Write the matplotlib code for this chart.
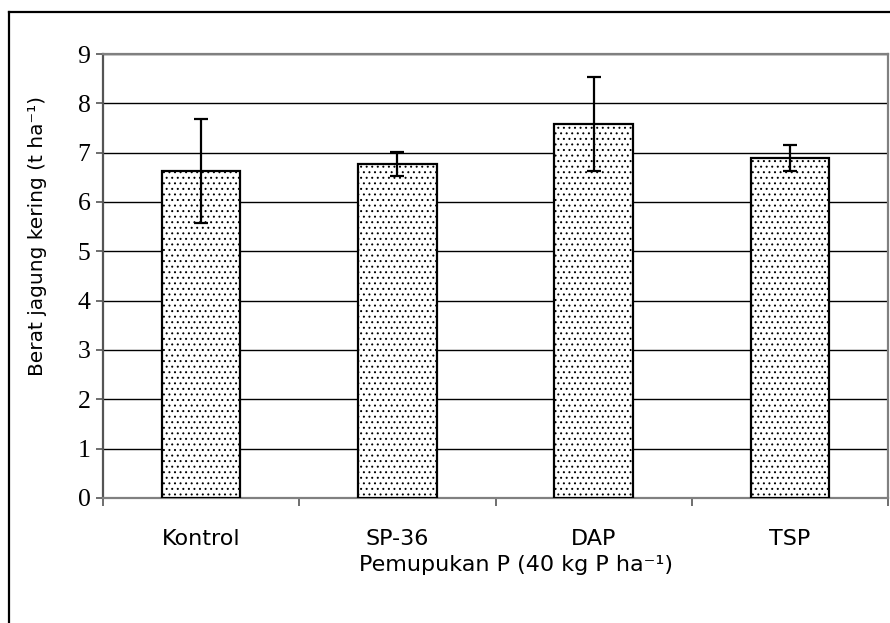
import matplotlib
matplotlib.use("Agg")
import matplotlib.pyplot as plt
from matplotlib.lines import Line2D
import numpy as np

plt.rcParams['hatch.linewidth'] = 0.7
plt.rcParams['hatch.color'] = '#333333'

categories = ["Kontrol", "SP-36", "DAP", "TSP"]
values = [6.63, 6.77, 7.58, 6.89]
errors = [1.06, 0.235, 0.95, 0.27]
yticks = [0, 1, 2, 3, 4, 5, 6, 7, 8, 9]

W, H = 890, 623
fig = plt.figure(figsize=(W / 100, H / 100), dpi=100)
ax = fig.add_axes([103 / W, 1 - 498 / H, (888 - 103) / W, (498 - 54) / H])

x = np.arange(len(categories))
ax.bar(x, values, width=0.4, color='white', edgecolor='black', linewidth=1.6,
       hatch='...', zorder=3)
ax.errorbar(x, values, yerr=errors, fmt='none', ecolor='black', elinewidth=1.6,
            capsize=4.7, capthick=1.6, zorder=4)

ax.set_xlim(-0.5, len(categories) - 0.5)
ax.set_ylim(0, 9)
ax.set_yticks(yticks)
ax.set_yticklabels([str(v) for v in yticks], family='Liberation Serif', fontsize=18.5)
ax.tick_params(axis='y', direction='out', length=5, width=1.2, color='#555555', pad=4)

ax.set_xticks(x)
ax.set_xticklabels(categories, family='DejaVu Sans', fontsize=16)
ax.tick_params(axis='x', which='major', length=0, pad=22)
ax.set_xticks(np.arange(-0.5, len(categories)), minor=True)
ax.tick_params(axis='x', which='minor', direction='out', length=6, width=1.2, color='#555555')

ax.grid(axis='y', color='black', linewidth=1.0, zorder=0)
ax.set_axisbelow(True)
for s in ['left', 'bottom', 'right', 'top']:
    ax.spines[s].set_color('#808080')
    ax.spines[s].set_linewidth(1.6)
ax.spines['left'].set_color('#555555')

fig.text(38 / W, 1 - 236 / H, 'Berat jagung kering (t ha\u207b\u00b9)', rotation=90,
         ha='center', va='center', fontsize=14.5, family='DejaVu Sans')
fig.text(516 / W, 1 - 555 / H, 'Pemupukan P (40 kg P ha\u207b\u00b9)',
         ha='center', va='top', fontsize=16, family='DejaVu Sans')

# outer chart frame (partially visible)
fig.add_artist(Line2D([9 / W, 9 / W], [0, 1 - 12 / H], transform=fig.transFigure,
                      color='black', linewidth=1.6))
fig.add_artist(Line2D([9 / W, 1], [1 - 12 / H, 1 - 12 / H], transform=fig.transFigure,
                      color='black', linewidth=1.6))

fig.savefig('out.png', dpi=100)
